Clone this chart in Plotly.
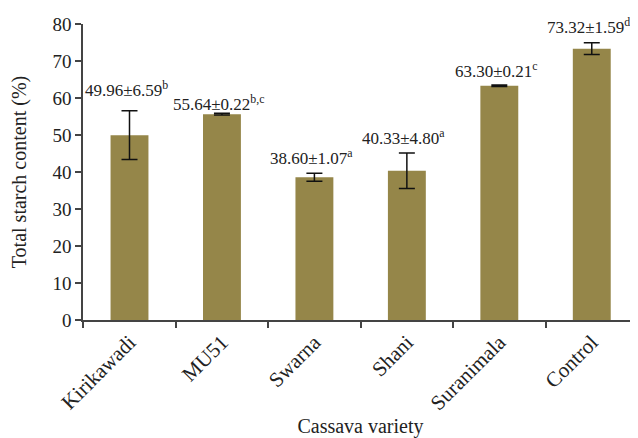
import plotly.graph_objects as go

categories = ["Kirikawadi", "MU51", "Swarna", "Shani", "Suranimala", "Control"]
means = [49.96, 55.64, 38.60, 40.33, 63.30, 73.32]
sds = [6.59, 0.22, 1.07, 4.80, 0.21, 1.59]
letters = ["b", "b,c", "a", "a", "c", "d"]
y_ticks = [0, 10, 20, 30, 40, 50, 60, 70, 80]

label_shift = [22, 10, 16, 16, 15, 17]

FONT = "Liberation Serif, Times New Roman, serif"
BAR = "#958649"

fig = go.Figure()
fig.add_trace(go.Bar(
    x=categories, y=means,
    marker=dict(color=BAR, line=dict(width=0)),
    error_y=dict(type="data", array=sds, visible=True, color="#111111",
                 thickness=1.5, width=8),
    width=0.41,
    hoverinfo="skip",
))

for c, m, s, l, sh in zip(categories, means, sds, letters, label_shift):
    fig.add_annotation(
        x=c, y=m + s, xref="x", yref="y",
        text=f"{m:.2f}±{s:.2f}<sup>{l}</sup>",
        showarrow=False, yanchor="middle", xanchor="center",
        yshift=sh, xshift=-3,
        font=dict(family=FONT, size=17, color="#222222"),
    )

fig.update_layout(
    width=630, height=430,
    margin=dict(l=75, r=0, t=16, b=118),
    plot_bgcolor="white", paper_bgcolor="white",
    showlegend=False,
    font=dict(family=FONT, size=18, color="#222222"),
    xaxis=dict(
        title=dict(text="Cassava variety", font=dict(family=FONT, size=20), standoff=7),
        automargin=False,
        tickangle=-45,
        tickfont=dict(family=FONT, size=21),
        showline=True, linecolor="#444444", linewidth=1.5,
        ticks="outside", ticklen=6, tickcolor="#444444", tickwidth=1.5,
        tickson="boundaries",
        showgrid=False,
    ),
    yaxis=dict(
        title=dict(text="Total starch content (%)", font=dict(family=FONT, size=20), standoff=20),
        automargin=False,
        range=[0, 80],
        tickvals=y_ticks,
        tickfont=dict(family=FONT, size=19),
        showline=True, linecolor="#444444", linewidth=1.5,
        ticks="outside", ticklen=6, tickcolor="#444444", tickwidth=1.5,
        showgrid=False, zeroline=False,
    ),
)

fig.write_html("out.html")
